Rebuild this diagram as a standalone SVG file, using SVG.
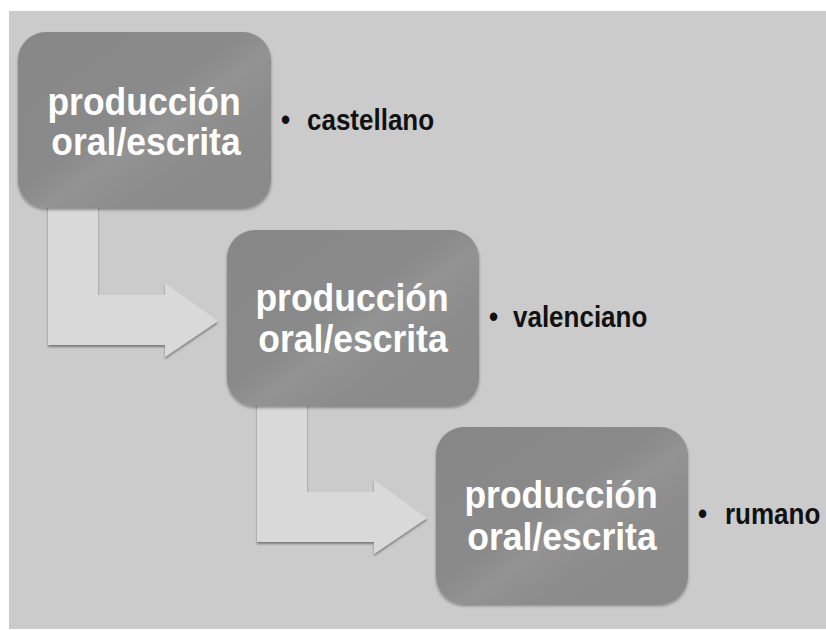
<svg xmlns="http://www.w3.org/2000/svg" width="826" height="630" viewBox="0 0 826 630">
<defs>
<style>
.box{fill:url(#boxGrad);filter:url(#shadow);}
.arrow{fill:#d9d9d9;filter:url(#ashadow);}
.title{font-family:"Liberation Sans",Arial,Helvetica,sans-serif;font-weight:bold;font-size:35.5px;fill:#ffffff;text-anchor:middle;}
.lbl{font-family:"Liberation Sans",Arial,Helvetica,sans-serif;font-weight:bold;font-size:26px;fill:#111111;}
</style>
<linearGradient id="boxGrad" x1="0" y1="0" x2="1" y2="1">
<stop offset="0" stop-color="#878787"/>
<stop offset="0.45" stop-color="#8a8a8a"/>
<stop offset="0.55" stop-color="#939393"/>
<stop offset="0.7" stop-color="#8c8c8c"/>
<stop offset="1" stop-color="#8a8a8a"/>
</linearGradient>
<filter id="shadow" x="-10%" y="-10%" width="120%" height="125%">
<feGaussianBlur in="SourceAlpha" stdDeviation="1.5"/>
<feOffset dx="0" dy="2" result="b"/>
<feFlood flood-color="#000" flood-opacity="0.35"/>
<feComposite in2="b" operator="in"/>
<feMerge><feMergeNode/><feMergeNode in="SourceGraphic"/></feMerge>
</filter>
<filter id="ashadow" x="-10%" y="-10%" width="120%" height="125%">
<feGaussianBlur in="SourceAlpha" stdDeviation="1"/>
<feOffset dx="0" dy="2" result="b"/>
<feFlood flood-color="#000" flood-opacity="0.4"/>
<feComposite in2="b" operator="in"/>
<feMerge><feMergeNode/><feMergeNode in="SourceGraphic"/></feMerge>
</filter>
<path id="bend" d="M48,200 L98,200 L98,295 L165,295 L165,283 L218,321 L165,357 L165,345 L48,345 Z"/>
</defs>
<rect x="0" y="0" width="826" height="630" fill="#ffffff"/>
<rect x="9" y="11" width="817" height="618" fill="#cbcbcb"/>
<g id="connectors">
<use href="#bend" class="arrow"/>
<use href="#bend" class="arrow" transform="translate(209,197)"/>
</g>
<g id="node1">
<rect class="box" x="18" y="32" width="253" height="176" rx="28"/>
<text class="title" transform="translate(144,115) scale(1,1.1)">producción</text>
<text class="title" transform="translate(146,155) scale(1,1.1)">oral/escrita</text>
</g>
<g id="node2">
<rect class="box" x="227" y="230" width="252" height="176" rx="28"/>
<text class="title" transform="translate(352,311) scale(1,1.1)">producción</text>
<text class="title" transform="translate(353,352) scale(1,1.1)">oral/escrita</text>
</g>
<g id="node3">
<rect class="box" x="436" y="427" width="252" height="177" rx="28"/>
<text class="title" transform="translate(561,508) scale(1,1.1)">producción</text>
<text class="title" transform="translate(562,550) scale(1,1.1)">oral/escrita</text>
</g>
<g id="label1">
<text class="lbl" transform="translate(281,130) scale(1,1.12)"><tspan>•</tspan><tspan x="26">castellano</tspan></text>
</g>
<g id="label2">
<text class="lbl" transform="translate(489,327) scale(1,1.12)"><tspan>•</tspan><tspan x="24">valenciano</tspan></text>
</g>
<g id="label3">
<text class="lbl" transform="translate(698,524) scale(1,1.12)"><tspan>•</tspan><tspan x="27">rumano</tspan></text>
</g>
</svg>
